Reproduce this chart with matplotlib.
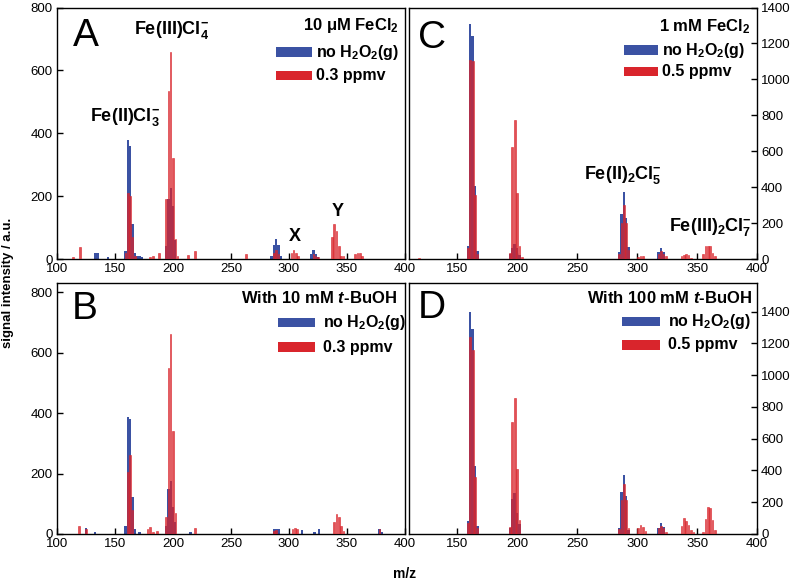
import matplotlib
matplotlib.use("Agg")
import matplotlib.pyplot as plt
from matplotlib.patches import Rectangle

plt.rcParams['font.family'] = ['Liberation Sans', 'DejaVu Sans']
plt.rcParams['mathtext.fontset'] = 'custom'
plt.rcParams['mathtext.rm'] = 'Liberation Sans'
plt.rcParams['mathtext.bf'] = 'Liberation Sans:bold'
plt.rcParams['mathtext.it'] = 'Liberation Sans:italic'
plt.rcParams['mathtext.bfit'] = 'Liberation Sans:italic:bold'

# ---------------- data ----------------
# Panel A : 10 uM FeCl2
A_blue_mz = [133, 135, 144, 159, 161, 163, 165, 167, 169, 171, 173, 194, 196, 198, 200, 202,
             285, 287, 289, 291, 293, 319, 321, 323, 325]
A_blue_int = [18, 18, 6, 25, 380, 360, 110, 20, 10, 8, 5, 40, 190, 225, 170, 60,
              10, 45, 65, 45, 10, 15, 28, 15, 5]
A_red_mz = [114, 120, 159, 161, 163, 165, 167, 180, 183, 188, 194, 196, 198, 200, 202, 204,
            213, 219, 263, 287, 289, 291, 302, 304, 306, 308, 321, 323, 325,
            337, 339, 341, 343, 345, 347, 357, 359, 361, 363]
A_red_int = [5, 38, 20, 210, 200, 70, 10, 5, 8, 20, 190, 535, 660, 320, 65, 10,
             12, 25, 15, 20, 30, 15, 20, 30, 20, 8, 15, 10, 5,
             70, 110, 90, 40, 10, 10, 15, 20, 18, 8]

# Panel C : 1 mM FeCl2
C_blue_mz = [159, 161, 163, 165, 167, 194, 196, 198, 200, 202,
             285, 287, 289, 291, 293, 318, 320, 322]
C_blue_int = [75, 1310, 1240, 405, 43, 30, 60, 84, 60, 20,
              40, 252, 373, 228, 65, 40, 62, 40]
C_red_mz = [118, 159, 161, 163, 165, 167, 194, 196, 198, 200, 202, 204,
            285, 287, 289, 291, 293, 301, 303, 305, 318, 320, 322, 324,
            337, 339, 341, 343, 345, 355, 357, 359, 361, 363, 365]
C_red_int = [8, 60, 1110, 1100, 355, 30, 32, 625, 775, 368, 75, 10,
             30, 200, 300, 200, 50, 10, 18, 15, 30, 45, 30, 15,
             15, 25, 30, 20, 8, 30, 70, 75, 70, 35, 15]

# Panel B : with 10 mM t-BuOH
B_blue_mz = [125, 133, 159, 161, 163, 165, 167, 171, 194, 196, 198, 200, 202, 215,
             287, 289, 291, 311, 322, 326, 378, 380]
B_blue_int = [20, 5, 28, 388, 380, 124, 15, 8, 25, 150, 175, 90, 40, 5,
              15, 18, 15, 12, 8, 18, 18, 8]
B_red_mz = [119, 125, 161, 163, 165, 178, 180, 183, 186, 194, 196, 198, 200, 202,
            219, 287, 289, 303, 305, 307, 339, 341, 343, 345, 347, 378]
B_red_int = [25, 18, 205, 260, 80, 18, 22, 5, 10, 55, 550, 660, 340, 70,
             20, 10, 12, 15, 20, 15, 40, 65, 55, 25, 10, 15]

# Panel D : with 100 mM t-BuOH
D_blue_mz = [159, 161, 163, 165, 167, 194, 196, 198, 200, 202,
             285, 287, 289, 291, 293, 318, 320, 322]
D_blue_int = [82, 1400, 1290, 430, 50, 40, 220, 260, 130, 60,
              36, 262, 372, 241, 27, 40, 71, 45]
D_red_mz = [159, 161, 163, 165, 167, 194, 196, 198, 200, 202,
            285, 287, 289, 291, 293, 301, 303, 305, 307, 318, 320, 322, 324,
            337, 339, 341, 343, 345, 347, 355, 357, 359, 361, 363, 365]
D_red_int = [70, 1243, 1159, 361, 40, 46, 703, 854, 409, 88,
             30, 214, 315, 214, 40, 35, 57, 45, 20, 35, 50, 35, 15,
             50, 103, 84, 57, 25, 10, 10, 92, 172, 162, 88, 25]

BLUE = '#3B52A3'
RED = '#D9252C'

W, H = 796, 585
fig = plt.figure(figsize=(W / 100, H / 100), dpi=100)


def fr(x0, x1, ytop, ybot):
    return [x0 / W, 1 - ybot / H, (x1 - x0) / W, (ybot - ytop) / H]


axA = fig.add_axes(fr(57, 405, 7.5, 259))
axC = fig.add_axes(fr(408.5, 757, 7.5, 259))
axB = fig.add_axes(fr(57, 405, 283, 534))
axD = fig.add_axes(fr(408.5, 757, 283, 534))

panels = [
    (axA, A_blue_mz, A_blue_int, A_red_mz, A_red_int, (100, 400), (0, 800), 'left'),
    (axC, C_blue_mz, C_blue_int, C_red_mz, C_red_int, (109.5, 400), (0, 1400), 'right'),
    (axB, B_blue_mz, B_blue_int, B_red_mz, B_red_int, (100, 400), (0, 830), 'left'),
    (axD, D_blue_mz, D_blue_int, D_red_mz, D_red_int, (109.5, 400), (0, 1580), 'right'),
]

for ax, bm, bi, rm, ri, xl, yl, side in panels:
    ax.bar(bm, bi, width=2.0, color=BLUE, linewidth=0, zorder=2)
    ax.bar(rm, ri, width=1.4, facecolor=RED, alpha=0.8, edgecolor=RED,
           linewidth=0.5, zorder=3)
    ax.set_xlim(*xl)
    ax.set_ylim(*yl)
    if side == 'left':
        ax.set_xticks([100, 150, 200, 250, 300, 350, 400])
        ax.set_yticks([0, 200, 400, 600, 800])
    else:
        ax.set_xticks([150, 200, 250, 300, 350, 400])
        ax.set_yticks([0, 200, 400, 600, 800, 1000, 1200, 1400])
        ax.yaxis.tick_right()
    ax.tick_params(direction='in', length=4, width=1, labelsize=9.5, pad=3,
                   colors='black')
    for s in ax.spines.values():
        s.set_linewidth(1.0)


def legend(ax, xp0, xp1, yb, yr, xt, title, xtitle, ytitle, red_label):
    ax.text(xtitle, ytitle, title, transform=ax.transAxes, ha='right', va='center',
            fontsize=12, fontweight='bold')
    for y, c, lab in [(yb, BLUE, r'no H$_\mathbf{2}$O$_\mathbf{2}$(g)'),
                      (yr, RED, red_label)]:
        ax.add_patch(Rectangle((xp0, y - 0.018), xp1 - xp0, 0.036, transform=ax.transAxes,
                               facecolor=c, edgecolor='none', zorder=5))
        ax.text(xt, y, lab, transform=ax.transAxes, ha='left', va='center',
                fontsize=11.5, fontweight='bold')


legend(axA, 0.628, 0.732, 0.823, 0.728, 0.743, r'10 $\mathbf{\mu}$M FeCl$_\mathbf{2}$',
       0.984, 0.930, '0.3 ppmv')
legend(axC, 0.617, 0.717, 0.831, 0.744, 0.728, r'1 mM FeCl$_\mathbf{2}$',
       0.981, 0.922, '0.5 ppmv')
legend(axB, 0.634, 0.740, 0.841, 0.745, 0.763, r'With 10 mM $\mathbfit{t}$-BuOH',
       0.978, 0.940, '0.3 ppmv')
legend(axD, 0.614, 0.723, 0.845, 0.753, 0.746, r'With 100 mM $\mathbfit{t}$-BuOH',
       0.986, 0.940, '0.5 ppmv')

for ax, lab, x, y in [(axA, 'A', 0.046, 0.887), (axC, 'C', 0.027, 0.879),
                      (axB, 'B', 0.043, 0.896), (axD, 'D', 0.027, 0.900)]:
    ax.text(x, y, lab, transform=ax.transAxes, ha='left', va='center', fontsize=28)

# peak annotations
axA.text(199, 728, r'Fe(III)Cl$_\mathbf{4}^\mathbf{-}$', ha='center', va='center',
         fontsize=13, fontweight='bold')
axA.text(158.6, 452, r'Fe(II)Cl$_\mathbf{3}^\mathbf{-}$', ha='center', va='center',
         fontsize=13, fontweight='bold')
axA.text(305, 70, 'X', ha='center', va='center', fontsize=13, fontweight='bold')
axA.text(342, 150, 'Y', ha='center', va='center', fontsize=13, fontweight='bold')
axC.text(288, 468, r'Fe(II)$_\mathbf{2}$Cl$_\mathbf{5}^\mathbf{-}$', ha='center',
         va='center', fontsize=13, fontweight='bold')
axC.text(396, 178, r'Fe(III)$_\mathbf{2}$Cl$_\mathbf{7}^\mathbf{-}$', ha='right',
         va='center', fontsize=13, fontweight='bold')

fig.text(405 / W, 1 - 574 / H, 'm/z', ha='center', va='center', fontsize=10,
         fontweight='bold')
fig.text(8 / W, 1 - 283 / H, 'signal intensity / a.u.', ha='center', va='center',
         rotation=90, fontsize=9.5, fontweight='bold')

fig.savefig('out.png', dpi=100)
